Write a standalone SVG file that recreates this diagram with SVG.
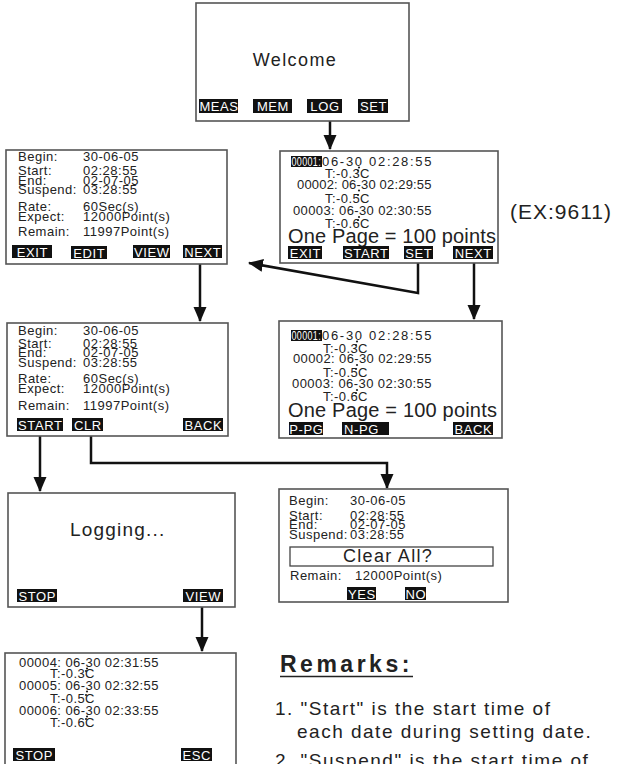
<svg xmlns="http://www.w3.org/2000/svg" width="620" height="764" viewBox="0 0 620 764">
<style>
.bx{fill:#fff;stroke:#555;stroke-width:1.6}
.t{font-family:'Liberation Sans',Arial,sans-serif;font-size:13px;letter-spacing:0.5px;fill:#222}
.w{fill:#fff}
.b{fill:#111}
.bt{font-family:'Liberation Sans',Arial,sans-serif;font-size:13px;letter-spacing:0.6px;fill:#fff;text-anchor:middle}
.big{font-family:'Liberation Sans',Arial,sans-serif;font-size:20px;letter-spacing:0.1px;fill:#222}
.c{fill:none;stroke:#111;stroke-width:2.5}
.d{fill:#222}
.rm{font-family:'Liberation Sans',Arial,sans-serif;font-size:19px;letter-spacing:1.5px;fill:#222}
</style>
<defs>
<marker id="ah" markerUnits="userSpaceOnUse" markerWidth="16" markerHeight="14" refX="14" refY="6.5" orient="auto">
<path d="M0,0 L15,6.5 L0,13 z" fill="#111"/>
</marker>
</defs>
<rect width="620" height="764" fill="#fff"/>

<g id="connectors">
<path class="c" d="M330,121 V149" marker-end="url(#ah)"/>
<path class="c" d="M418,263 V293 L249,263" marker-end="url(#ah)"/>
<path class="c" d="M474,263 V319" marker-end="url(#ah)"/>
<path class="c" d="M200,264 V321" marker-end="url(#ah)"/>
<path class="c" d="M40,436 V491" marker-end="url(#ah)"/>
<path class="c" d="M91,436 V463 H387 V488" marker-end="url(#ah)"/>
<path class="c" d="M202,607 V651" marker-end="url(#ah)"/>
</g>

<g id="welcome">
<rect class="bx" x="196" y="3" width="213" height="118"/>
<text x="295" y="66" style="font-family:'Liberation Sans',Arial,sans-serif;font-size:18px;letter-spacing:1.4px;fill:#222;text-anchor:middle">Welcome</text>
<rect class="b" x="199" y="99" width="39" height="14"/><text class="bt" x="219" y="111">MEAS</text>
<rect class="b" x="253" y="99" width="39" height="14"/><text class="bt" x="273" y="111">MEM</text>
<rect class="b" x="307" y="99" width="35" height="14"/><text class="bt" x="325" y="111">LOG</text>
<rect class="b" x="358" y="99" width="30" height="14"/><text class="bt" x="373.5" y="111">SET</text>
</g>

<g id="setup">
<rect class="bx" x="6" y="150" width="221" height="114"/>
<text class="t" x="18" y="161">Begin:</text><text class="t" x="83" y="161">30-06-05</text>
<text class="t" x="18" y="175">Start:</text><text class="t" x="83" y="175">02:28:55</text>
<text class="t" x="18" y="185">End:</text><text class="t" x="83" y="185">02-07-05</text>
<text class="t" x="18" y="194">Suspend:</text><text class="t" x="83" y="194">03:28:55</text>
<text class="t" x="18" y="211">Rate:</text><text class="t" x="83" y="211">60Sec(s)</text>
<text class="t" x="18" y="221">Expect:</text><text class="t" x="83" y="221">12000Point(s)</text>
<text class="t" x="18" y="236">Remain:</text><text class="t" x="83" y="236">11997Point(s)</text>
<rect class="b" x="12" y="245" width="40" height="13"/><text class="bt" x="32.3" y="256.5">EXIT</text>
<rect class="b" x="71" y="246" width="36" height="13"/><text class="bt" x="89.3" y="257.5">EDIT</text>
<rect class="b" x="133" y="245" width="37" height="13"/><text class="bt" x="151.8" y="256.5">VIEW</text>
<rect class="b" x="183" y="245" width="39" height="13"/><text class="bt" x="202.8" y="256.5">NEXT</text>
</g>

<g id="log-list">
<rect class="bx" x="280" y="151" width="218" height="112"/>
<rect class="b" x="291" y="156" width="31" height="11"/><text class="t w" x="291.5" y="165.5" textLength="29.5" lengthAdjust="spacingAndGlyphs">00001:</text>
<text class="t" x="322" y="165.5" textLength="110">06-30 02:28:55</text>
<text class="t" x="325" y="178" textLength="45">T:-0.3C</text>
<text class="t" x="297" y="188.5" textLength="135">00002: 06-30 02:29:55</text>
<text class="t" x="325" y="203" textLength="45">T:-0.5C</text>
<text class="t" x="293" y="215" textLength="139">00003: 06-30 02:30:55</text>
<text class="t" x="325" y="228" textLength="45">T:-0.6C</text>
<circle class="d" cx="359" cy="167.5" r="1.1"/><circle class="d" cx="358" cy="170.5" r="1.1"/>
<circle class="d" cx="359" cy="190.5" r="1.1"/><circle class="d" cx="358" cy="195" r="1.1"/>
<circle class="d" cx="359" cy="217" r="1.1"/><circle class="d" cx="358" cy="220" r="1.1"/>
<text class="big" x="288" y="243" textLength="208">One Page = 100 points</text>
<rect class="b" x="288" y="246" width="34" height="13"/><text class="bt" x="305.3" y="257.5">EXIT</text>
<rect class="b" x="343" y="246" width="46" height="13"/><text class="bt" x="366.3" y="257.5">START</text>
<rect class="b" x="404" y="246" width="29" height="13"/><text class="bt" x="418.8" y="257.5">SET</text>
<rect class="b" x="453" y="246" width="40" height="13"/><text class="bt" x="473.3" y="257.5">NEXT</text>
</g>

<text id="ex-label" x="510" y="219" style="font-family:'Liberation Sans',Arial,sans-serif;font-size:21px;letter-spacing:1px;fill:#222">(EX:9611)</text>

<g id="setup-2">
<rect class="bx" x="7" y="323" width="221" height="113"/>
<text class="t" x="18" y="335">Begin:</text><text class="t" x="83" y="335">30-06-05</text>
<text class="t" x="18" y="348">Start:</text><text class="t" x="83" y="348">02:28:55</text>
<text class="t" x="18" y="357">End:</text><text class="t" x="83" y="357">02-07-05</text>
<text class="t" x="18" y="367">Suspend:</text><text class="t" x="83" y="367">03:28:55</text>
<text class="t" x="18" y="383">Rate:</text><text class="t" x="83" y="383">60Sec(s)</text>
<text class="t" x="18" y="393">Expect:</text><text class="t" x="83" y="393">12000Point(s)</text>
<text class="t" x="18" y="410">Remain:</text><text class="t" x="83" y="410">11997Point(s)</text>
<rect class="b" x="17" y="418" width="46" height="13"/><text class="bt" x="40.3" y="429.5">START</text>
<rect class="b" x="72" y="418" width="31" height="13"/><text class="bt" x="87.8" y="429.5">CLR</text>
<rect class="b" x="183" y="418" width="40" height="13"/><text class="bt" x="203.3" y="429.5">BACK</text>
</g>

<g id="log-page">
<rect class="bx" x="279" y="321" width="223" height="117"/>
<rect class="b" x="291" y="330" width="31" height="11"/><text class="t w" x="291.5" y="339.5" textLength="29.5" lengthAdjust="spacingAndGlyphs">00001:</text>
<text class="t" x="322" y="339.5" textLength="110">06-30 02:28:55</text>
<text class="t" x="323" y="353" textLength="45">T:-0.3C</text>
<text class="t" x="293" y="363" textLength="139">00002: 06-30 02:29:55</text>
<text class="t" x="323" y="377" textLength="45">T:-0.5C</text>
<text class="t" x="292" y="388" textLength="140">00003: 06-30 02:30:55</text>
<text class="t" x="323" y="401" textLength="45">T:-0.6C</text>
<circle class="d" cx="357" cy="341.5" r="1.1"/><circle class="d" cx="356" cy="345" r="1.1"/>
<circle class="d" cx="357" cy="365" r="1.1"/><circle class="d" cx="356" cy="369" r="1.1"/>
<circle class="d" cx="357" cy="390" r="1.1"/><circle class="d" cx="356" cy="393" r="1.1"/>
<text class="big" x="288" y="417" textLength="209">One Page = 100 points</text>
<rect class="b" x="289" y="422" width="34" height="13"/><text class="bt" x="306.3" y="433.5">P-PG</text>
<rect class="b" x="342" y="422" width="47" height="13"/><text class="bt" x="344" y="433.5" style="text-anchor:start">N-PG</text>
<rect class="b" x="453" y="422" width="40" height="13"/><text class="bt" x="473.3" y="433.5">BACK</text>
</g>

<g id="logging">
<rect class="bx" x="8" y="493" width="227" height="114"/>
<text x="70" y="536" style="font-family:'Liberation Sans',Arial,sans-serif;font-size:19px;letter-spacing:1.2px;fill:#222">Logging...</text>
<rect class="b" x="17" y="589" width="40" height="13"/><text class="bt" x="37.3" y="600.5">STOP</text>
<rect class="b" x="183" y="589" width="40" height="13"/><text class="bt" x="203.3" y="600.5">VIEW</text>
</g>

<g id="clear-all">
<rect class="bx" x="279" y="489" width="229" height="113"/>
<text class="t" x="289" y="505">Begin:</text><text class="t" x="350" y="505">30-06-05</text>
<text class="t" x="289" y="520">Start:</text><text class="t" x="350" y="520">02:28:55</text>
<text class="t" x="289" y="529">End:</text><text class="t" x="350" y="529">02-07-05</text>
<text class="t" x="289" y="539">Suspend:</text><text class="t" x="350" y="539">03:28:55</text>
<rect x="290" y="547" width="203" height="19" fill="#fff" stroke="#444" stroke-width="1.3"/>
<text x="343" y="562" style="font-family:'Liberation Sans',Arial,sans-serif;font-size:18px;letter-spacing:1.3px;fill:#222">Clear All?</text>
<text class="t" x="290" y="580">Remain:</text><text class="t" x="355" y="580">12000Point(s)</text>
<rect class="b" x="347" y="587" width="29" height="13"/><text class="bt" x="361.8" y="598.5">YES</text>
<rect class="b" x="405" y="587" width="21" height="13"/><text class="bt" x="415.8" y="598.5">NO</text>
</g>

<g id="log-view">
<rect class="bx" x="5" y="653" width="231" height="118"/>
<text class="t" x="19" y="667" textLength="140">00004: 06-30 02:31:55</text>
<text class="t" x="50" y="678" textLength="45">T:-0.3C</text>
<text class="t" x="19" y="690" textLength="140">00005: 06-30 02:32:55</text>
<text class="t" x="50" y="703" textLength="45">T:-0.5C</text>
<text class="t" x="19" y="715" textLength="140">00006: 06-30 02:33:55</text>
<text class="t" x="50" y="727" textLength="45">T:-0.6C</text>
<circle class="d" cx="87" cy="668.5" r="1.1"/><circle class="d" cx="86" cy="671" r="1.1"/>
<circle class="d" cx="87" cy="691.5" r="1.1"/><circle class="d" cx="86" cy="695" r="1.1"/>
<circle class="d" cx="87" cy="716.5" r="1.1"/><circle class="d" cx="86" cy="719" r="1.1"/>
<rect class="b" x="13" y="748" width="42" height="13"/><text class="bt" x="34.3" y="759.5">STOP</text>
<rect class="b" x="181" y="748" width="31" height="13"/><text class="bt" x="196.8" y="759.5">ESC</text>
</g>

<g id="remarks">
<text x="280" y="672" style="font-family:'Liberation Sans',Arial,sans-serif;font-size:23px;font-weight:bold;letter-spacing:3.5px;fill:#222">Remarks:</text>
<line x1="280" y1="676.5" x2="413" y2="676.5" stroke="#222" stroke-width="1.6"/>
<text class="rm" x="275" y="715">1. "Start" is the start time of</text>
<text class="rm" x="297" y="738">each date during setting date.</text>
<text class="rm" x="275" y="767">2. "Suspend" is the start time of</text>
</g>
</svg>
